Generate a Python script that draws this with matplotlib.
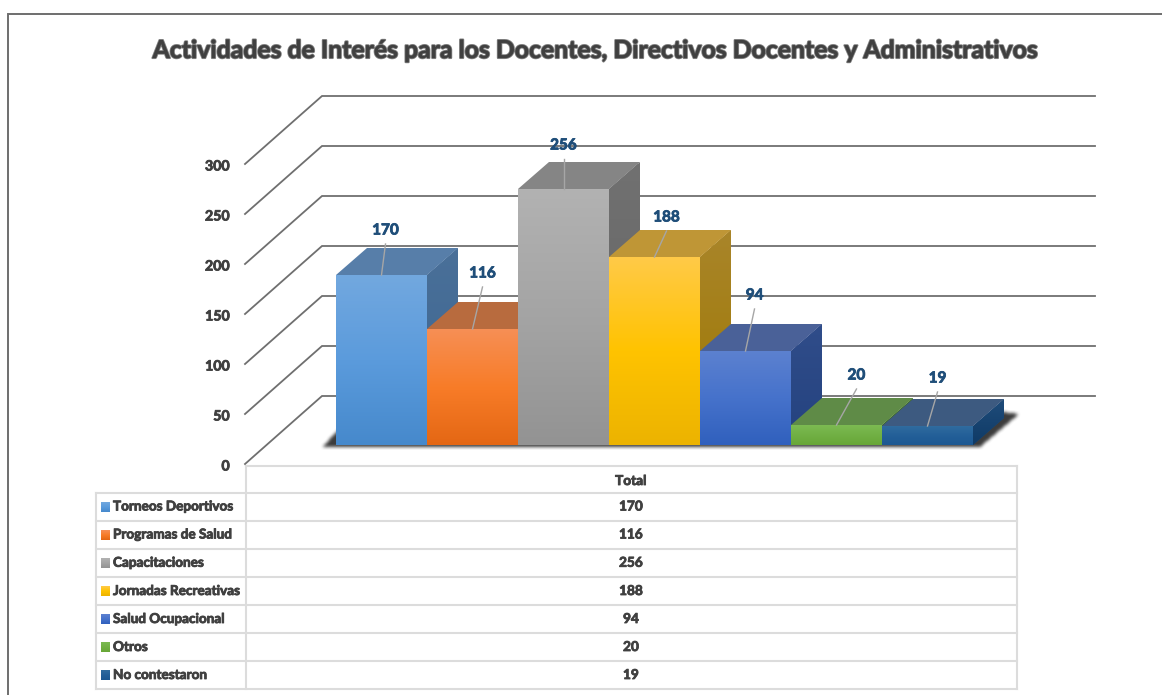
import numpy as np
import matplotlib
matplotlib.use("Agg")
import matplotlib.pyplot as plt
from matplotlib.colors import LinearSegmentedColormap
from matplotlib.patches import Polygon
from matplotlib.path import Path
from matplotlib.transforms import ScaledTranslation
import matplotlib.patheffects as pe

# ---- data ----
categories = ["Torneos Deportivos", "Programas de Salud", "Capacitaciones",
              "Jornadas Recreativas", "Salud Ocupacional", "Otros", "No contestaron"]
values = [170, 116, 256, 188, 94, 20, 19]
y_ticks = [0, 50, 100, 150, 200, 250, 300]
title = "Actividades de Interés para los Docentes, Directivos Docentes y Administrativos"
table_header = "Total"

# ---- styles ----
front_stops = [("#72a8df", "#5b9bdc", "#4689cc"),
               ("#f68f55", "#f87c28", "#e46714"),
               ("#b2b2b2", "#a4a4a4", "#939393"),
               ("#ffca48", "#ffc300", "#ecb300"),
               ("#5c81d0", "#4672cb", "#3060bd"),
               ("#7cba52", "#71b044", "#68a737"),
               ("#306c9f", "#235f98", "#1c5892")]
top_cols = ["#577ea9", "#b86b3e", "#858585", "#bf9636", "#4a6198", "#5f8b47", "#3d5a80"]
side_stops = [("#4a7099", "#3c6590"), ("#a85a30", "#a05025"), ("#717171", "#626262"),
              ("#a9852a", "#9e7800"), ("#304d8a", "#24427f"), ("#3f6b2a", "#3a6425"),
              ("#1f4c7a", "#0f3a66")]
W, H = 1162, 695
BAR_L, BAR_W = 336, 91
DX, DY = 31, 27            # bar depth, px
WALL_DX, WALL_DY = 77, 68  # wall depth, px
FLOOR = 19                 # front of the bars above the zero tick
INK = "#404040"
BLUE = "#1f4e79"
GRID = "#6f6f6f"
TBL = "#dcdcdc"
lead_dx = [4, 10, 0, 12, 9, 20, 10]
lead_dy = [31, 42, 30, 26, 42, 36, 34]

FONT = "Lato"
plt.rcParams["font.family"] = [FONT, "DejaVu Sans"]
plt.rcParams["font.weight"] = "bold"
soft = [pe.withStroke(linewidth=0.6, foreground=INK)]

fig = plt.figure(figsize=(W / 100, H / 100), dpi=100, facecolor="white")

# overlay in pixels: frame and table
px = fig.add_axes([0, 0, 1, 1], zorder=0)
px.set_xlim(0, W); px.set_ylim(H, 0); px.axis("off")

# plotting axes: y is the value axis, x runs in pixels
ax = fig.add_axes([245 / W, (H - 464) / H, 850 / W, 300 / H], zorder=1)
ax.patch.set_alpha(0)
for s in ax.spines.values():
    s.set_visible(False)
ax.set_xticks([])
ax.set_yticks(y_ticks)
ax.set_yticklabels([str(t) for t in y_ticks], fontsize=10.2, color=INK, fontweight="bold",
                   path_effects=soft)
ax.tick_params(axis="y", length=0, pad=11)
nudge = ScaledTranslation(0, -1.5 / 100, fig.dpi_scale_trans)
for lab in ax.get_yticklabels():
    lab.set_transform(lab.get_transform() + nudge)

# frame (open on the right)
px.plot([8, 8, 1162], [695, 13.5, 13.5], color="#6e6e6e", lw=1.4, solid_joinstyle="miter")
fig.text(594.5 / W, 1 - 50.5 / H, title, ha="center", va="center", fontsize=17.85, color=INK,
         fontweight="bold",
         path_effects=[pe.withStroke(linewidth=1.5, foreground="#7a7a7a"), pe.Normal()])

# walls
for t in y_ticks:
    ax.plot([245, 245 + WALL_DX, 1095], [t, t + WALL_DY, t + WALL_DY], color=GRID, lw=1.3,
            clip_on=False, zorder=1, solid_joinstyle="miter")

# soft floor shadow: a blurred polygon laid under the bars
sh_poly = Path([(340, 428), (323, 446.5), (980, 447), (1019, 414), (1003, 412),
                (973, 436), (340, 436)])
gx0, gx1, gy0, gy1 = 300, 1050, 395, 460
gx, gy = np.meshgrid(np.arange(gx0, gx1) + 0.5, np.arange(gy0, gy1) + 0.5)
mask = sh_poly.contains_points(np.c_[gx.ravel(), gy.ravel()]).reshape(gx.shape).astype(float)
kern = np.array([1, 2, 3, 4, 3, 2, 1], float)
kern /= kern.sum()
mask = np.apply_along_axis(lambda r: np.convolve(r, kern, mode="same"), 1, mask)
mask = np.apply_along_axis(lambda c: np.convolve(c, kern, mode="same"), 0, mask)
rgba = np.zeros(mask.shape + (4,))
rgba[..., :3] = 0.1
rgba[..., 3] = 0.85 * mask
ax.imshow(rgba, aspect="auto", extent=(gx0, gx1, 464 - gy1, 464 - gy0), origin="upper",
          zorder=2, clip_on=False)


def gradient(patch, cols, extent, zorder):
    cmap = LinearSegmentedColormap.from_list("g", list(cols))
    im = ax.imshow(np.linspace(0, 1, 256).reshape(-1, 1), cmap=cmap, aspect="auto",
                   extent=extent, origin="upper", zorder=zorder, clip_on=True)
    im.set_clip_path(patch)


# bars
for i, v in enumerate(values):
    left = BAR_L + BAR_W * i
    z = 3 + i
    top = v + FLOOR
    right = left + BAR_W
    side = Polygon([(right, FLOOR), (right + DX, FLOOR + DY), (right + DX, top + DY), (right, top)],
                   closed=True, fc=side_stops[i][0], ec="none", zorder=z, clip_on=False)
    ax.add_patch(side)
    gradient(side, side_stops[i], (right, right + DX, FLOOR, top + DY), z)
    ax.add_patch(Polygon([(left, top), (left + DX, top + DY), (right + DX, top + DY), (right, top)],
                         closed=True, fc=top_cols[i], ec="none", zorder=z, clip_on=False))
    b = ax.bar(left, v, width=BAR_W, bottom=FLOOR, align="edge", color=front_stops[i][0],
               edgecolor="none", zorder=z)[0]
    gradient(b, front_stops[i], (left, right, FLOOR, top), z + 0.1)

# data labels with leaders
for i, v in enumerate(values):
    cx = BAR_L + BAR_W * i + BAR_W / 2
    top = v + FLOOR
    ax.plot([cx, cx + lead_dx[i]], [top, top + lead_dy[i]], color="#a6a6a6", lw=1.0,
            zorder=20, clip_on=False)
    ax.text(cx + lead_dx[i], top + lead_dy[i] + 13.5, str(v), ha="center", va="center",
            fontsize=11, color=BLUE, fontweight="bold", zorder=21, clip_on=False,
            path_effects=[pe.withStroke(linewidth=0.6, foreground=BLUE)])

ax.set_xlim(245, 1095)
ax.set_ylim(0, 300)

# data table
rows_y = [465.5, 492.5, 520.5, 548.5, 577, 605, 633, 661, 689]
lw_t = 1.5
px.plot([246, 1017], [rows_y[0]] * 2, color=TBL, lw=lw_t)
for y in rows_y[1:]:
    px.plot([96, 1017], [y, y], color=TBL, lw=lw_t)
px.plot([96, 96], [rows_y[1], rows_y[-1]], color=TBL, lw=lw_t)
px.plot([246, 246], [rows_y[0], rows_y[-1]], color=TBL, lw=lw_t)
px.plot([1017, 1017], [rows_y[0], rows_y[-1]], color=TBL, lw=lw_t)
px.text(631, (rows_y[0] + rows_y[1]) / 2 + 2, table_header, ha="center", va="center", fontsize=9.8,
        color=INK, fontweight="bold", path_effects=soft)
for i, (c, v) in enumerate(zip(categories, values)):
    yc = (rows_y[i + 1] + rows_y[i + 2]) / 2
    cmap = LinearSegmentedColormap.from_list("k", list(front_stops[i]))
    px.imshow(np.linspace(0, 1, 32).reshape(-1, 1), cmap=cmap, aspect="auto",
              extent=(101, 110, yc + 5.5, yc - 4.5), origin="upper", zorder=3)
    px.text(113, yc, c, ha="left", va="center", fontsize=9.75, color=INK, fontweight="bold",
            path_effects=soft)
    px.text(631, yc, str(v), ha="center", va="center", fontsize=9.8, color=INK, fontweight="bold",
            path_effects=soft)
px.set_xlim(0, W); px.set_ylim(H, 0)

fig.savefig("out.png", dpi=100, facecolor="white")
